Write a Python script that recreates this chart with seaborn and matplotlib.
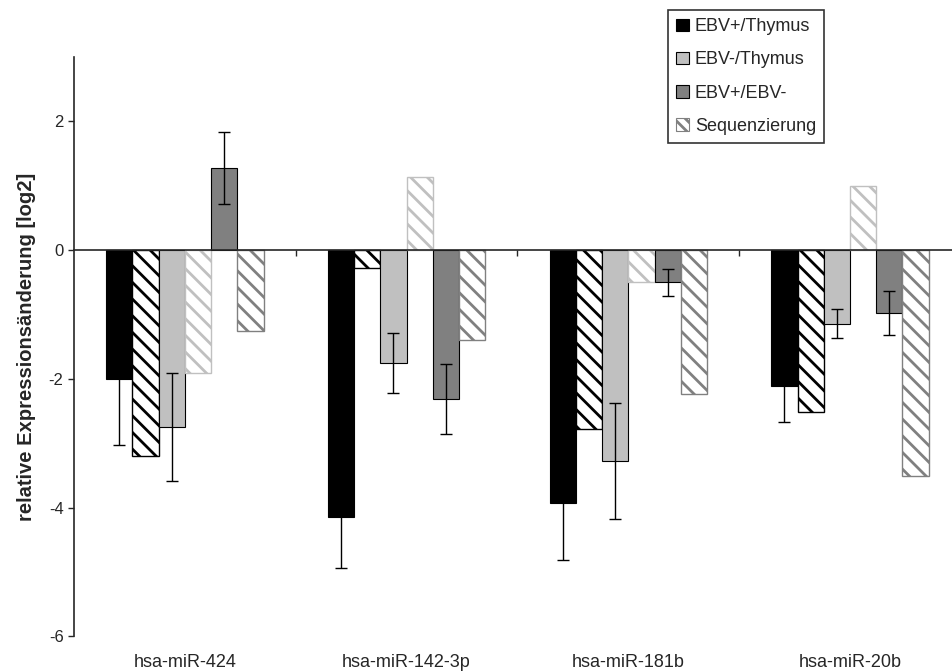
import pandas as pd
import matplotlib
matplotlib.use('Agg')
import matplotlib.pyplot as plt
import matplotlib.patches as mpatches
import seaborn as sns

# data
mirnas = ['hsa-miR-424', 'hsa-miR-142-3p', 'hsa-miR-181b', 'hsa-miR-20b']
series = ['EBV+/Thymus', 'EBV+/Thymus Seq', 'EBV-/Thymus', 'EBV-/Thymus Seq', 'EBV+/EBV-', 'EBV+/EBV- Seq']

ebvp_thymus = [-2.0, -4.15, -3.93, -2.11]
ebvp_thymus_seq = [-3.19, -0.27, -2.78, -2.52]
ebvn_thymus = [-2.75, -1.75, -3.27, -1.14]
ebvn_thymus_seq = [-1.91, 1.13, -0.50, 1.0]
ebvp_ebvn = [1.28, -2.31, -0.50, -0.98]
ebvp_ebvn_seq = [-1.26, -1.39, -2.24, -3.51]

ebvp_thymus_err = [1.03, 0.78, 0.89, 0.56]
ebvn_thymus_err = [0.84, 0.47, 0.90, 0.22]
ebvp_ebvn_err = [0.56, 0.54, 0.21, 0.34]

legend_labels = ['EBV+/Thymus', 'EBV-/Thymus', 'EBV+/EBV-', 'Sequenzierung']

# build long table for seaborn
values = [ebvp_thymus, ebvp_thymus_seq, ebvn_thymus, ebvn_thymus_seq, ebvp_ebvn, ebvp_ebvn_seq]
rows = []
for s, vals in zip(series, values):
    for m, v in zip(mirnas, vals):
        rows.append({'miRNA': m, 'series': s, 'value': v})
df = pd.DataFrame(rows)

sns.set_style('white')
plt.rcParams['font.family'] = ['Liberation Sans', 'DejaVu Sans']
plt.rcParams['axes.unicode_minus'] = False
plt.rcParams['hatch.linewidth'] = 2.0

black = '#000000'
lgray = '#c0c0c0'
dgray = '#808080'
fill_colors = [black, 'white', lgray, 'white', dgray, 'white']
stripe_colors = [None, black, None, lgray, None, dgray]

fig = plt.figure(figsize=(9.52, 6.72), dpi=100)
ax = fig.add_axes([0.0777, 0.053, 0.9223, 0.862])

sns.barplot(data=df, x='miRNA', y='value', hue='series', order=mirnas, hue_order=series,
            palette=fill_colors, width=0.71, errorbar=None, legend=False,
            edgecolor='black', linewidth=0.8, saturation=1, ax=ax)

# hatched (sequencing) bars
for i, cont in enumerate(ax.containers):
    if stripe_colors[i] is not None:
        for p in cont:
            p.set_facecolor('white')
            p.set_hatch('\\\\')
            p.set_edgecolor(stripe_colors[i])
            p.set_linewidth(1.0)

# error bars on the qPCR bars
for idx, err in [(0, ebvp_thymus_err), (2, ebvn_thymus_err), (4, ebvp_ebvn_err)]:
    cont = ax.containers[idx]
    xs = [p.get_x() + p.get_width() / 2 for p in cont]
    ax.errorbar(xs, values[idx], yerr=err, fmt='none', ecolor='black',
                elinewidth=1.0, capsize=4.3, capthick=1.0, zorder=5)

ax.set_ylim(-6, 3)
ax.set_xlim(-0.5, 3.46)
ax.set_yticks([-6, -4, -2, 0, 2])
ax.tick_params(axis='y', direction='out', length=4.5, width=1, labelsize=12, pad=3, left=True)
ax.set_ylabel('relative Expressionsänderung [log2]', fontsize=14.5, fontweight='bold', labelpad=9)

# x axis line at zero with ticks between groups
ax.spines['top'].set_visible(False)
ax.spines['right'].set_visible(False)
ax.spines['bottom'].set_position(('data', 0))
ax.spines['bottom'].set_linewidth(1.2)
ax.spines['left'].set_linewidth(1.2)
ax.set_xticks([0.5, 1.5, 2.5], labels=['', '', ''])
ax.tick_params(axis='x', direction='out', length=4, width=1, bottom=True)
ax.set_xlabel('')

# category labels at the bottom
sec = ax.secondary_xaxis(0.0)
sec.set_xticks(range(len(mirnas)), labels=mirnas)
sec.tick_params(length=0, labelsize=13, pad=13)
sec.spines['bottom'].set_visible(False)

# legend
handles = [
    mpatches.Patch(facecolor=black, edgecolor='black', linewidth=0.8),
    mpatches.Patch(facecolor=lgray, edgecolor='black', linewidth=0.8),
    mpatches.Patch(facecolor=dgray, edgecolor='black', linewidth=0.8),
    mpatches.Patch(facecolor='white', edgecolor=dgray, hatch='\\\\\\', linewidth=0.8),
]
leg = fig.legend(handles, legend_labels, loc='upper left', bbox_to_anchor=(0.702, 0.985),
                 bbox_transform=fig.transFigure, fontsize=13, frameon=True, fancybox=False,
                 handlelength=0.67, handleheight=0.67, handletextpad=0.35, labelspacing=0.9,
                 borderpad=0.45, borderaxespad=0)
leg.get_frame().set_edgecolor('black')
leg.get_frame().set_linewidth(1.2)

fig.savefig('out.png', dpi=100)
